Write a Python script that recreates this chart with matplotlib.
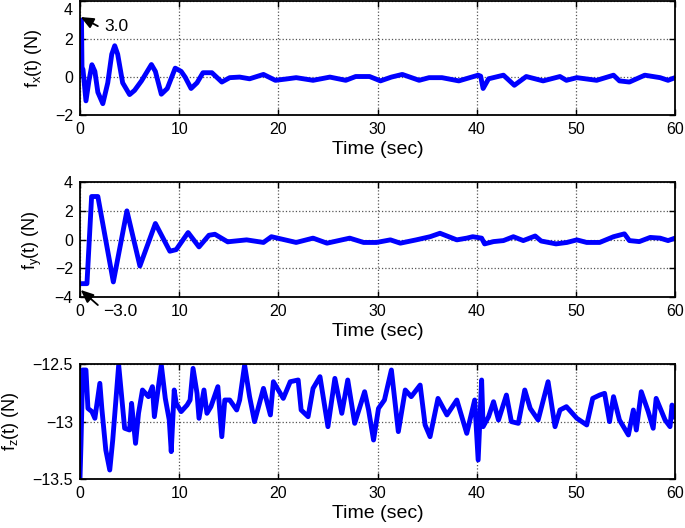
import matplotlib
matplotlib.use("Agg")
import matplotlib.pyplot as plt
from matplotlib.transforms import ScaledTranslation

plt.rcParams["font.family"] = ["Liberation Sans", "DejaVu Sans"]

# ---- data ----
fx_t = [0, 0.15, 0.2, 0.3, 0.6, 0.9, 1.2, 1.5, 1.8, 2.3, 2.8, 3.2, 3.5, 3.8,
        4.3, 5.0, 5.5, 6.2, 7.2, 7.6, 8.2, 8.8, 9.6, 10.2, 10.6, 11.2, 11.8,
        12.4, 13.3, 14.3, 15.1, 16.1, 17.1, 18.5, 19.7, 20.8, 21.8, 23.5,
        25.2, 26.8, 27.8, 29.2, 30.3, 31.4, 32.5, 34.2, 35.2, 36.5, 38.2,
        39.3, 40.15, 40.4, 40.65, 41.2, 42.7, 43.8, 45.0, 46.7, 48.4, 49.05,
        50.1, 52.1, 53.8, 54.4, 55.4, 56.95, 58.5, 59.3, 60.0]
fx_v = [3.0, 3.0, 0.5, 0.4, -1.25, -0.2, 0.65, 0.3, -0.8, -1.4, -0.3, 1.2,
        1.65, 1.2, -0.3, -0.92, -0.7, -0.2, 0.66, 0.3, -0.9, -0.6, 0.47, 0.3,
        0.0, -0.6, -0.3, 0.23, 0.23, -0.26, -0.03, 0.0, -0.09, 0.14, -0.17,
        -0.1, -0.03, -0.17, 0.0, -0.17, 0.03, 0.03, -0.2, 0.0, 0.14, -0.17,
        -0.03, -0.03, -0.2, -0.03, 0.1, 0.05, -0.6, -0.09, 0.1, -0.43, 0.03,
        -0.2, 0.03, -0.17, -0.03, -0.17, 0.1, -0.2, -0.26, 0.1, -0.03,
        -0.17, -0.03]

fy_t = [0, 0.7, 1.17, 1.8, 3.36, 4.73, 6.04, 7.6, 9.06, 9.7, 10.9, 12.0,
        13.0, 13.6, 14.9, 15.1, 16.8, 18.5, 19.3, 21.8, 23.5, 24.9, 27.2,
        28.6, 29.9, 31.3, 32.3, 33.9, 35.3, 36.3, 38.0, 39.0, 39.6, 40.5,
        40.8, 41.7, 42.7, 43.7, 44.7, 45.9, 46.5, 48.0, 49.1, 50.1, 51.1,
        52.4, 53.8, 54.9, 55.4, 56.4, 57.5, 58.5, 59.3, 60.0]
fy_v = [-3.07, -3.07, 3.0, 3.0, -2.95, 2.0, -1.84, 1.12, -0.81, -0.7, 0.49,
        -0.51, 0.3, 0.37, -0.16, -0.14, -0.02, -0.2, 0.2, -0.2, 0.1, -0.25,
        0.1, -0.2, -0.2, -0.02, -0.25, -0.02, 0.2, 0.44, -0.02, 0.1, 0.2,
        0.1, -0.3, -0.14, -0.07, 0.2, -0.07, 0.25, -0.1, -0.3, -0.2, -0.02,
        -0.2, -0.2, 0.2, 0.4, -0.07, -0.14, 0.15, 0.1, -0.07, 0.1]

fz_t = [0, 0.1, 0.27, 0.6, 0.8, 1.2, 1.5, 2.0, 2.2, 2.6, 3.0, 3.3, 3.9, 4.5,
        5.0, 5.2, 5.6, 5.9, 6.3, 6.9, 7.3, 7.5, 8.2, 8.6, 9.0, 9.2, 9.5,
        9.7, 10.2, 10.8, 11.1, 11.4, 11.8, 12.0, 12.5, 12.8, 13.2, 13.9,
        14.3, 14.6, 15.1, 15.8, 16.1, 16.6, 17.1, 17.6, 18.5, 19.2, 19.5,
        20.5, 21.2, 22.0, 22.3, 23.0, 23.5, 24.2, 25.0, 25.7, 26.4, 27.0,
        27.7, 28.7, 29.1, 29.6, 30.1, 30.7, 31.4, 32.1, 32.8, 33.4, 34.3,
        34.8, 35.3, 36.1, 37.0, 38.0, 38.6, 39.0, 39.8, 40.15, 40.5, 40.65,
        41.2, 41.7, 42.2, 43.0, 43.5, 44.2, 44.85, 45.4, 46.2, 47.2, 47.9,
        48.4, 49.05, 50.1, 51.1, 51.7, 52.4, 52.9, 53.4, 53.8, 54.4, 55.3,
        55.8, 56.1, 56.6, 57.3, 57.8, 58.1, 59.0, 59.5, 59.7, 60.0]
fz_v = [-13.494, -13.19, -12.552, -12.552, -12.886, -12.914, -12.972,
        -12.668, -12.886, -13.248, -13.422, -13.161, -12.509, -13.059,
        -13.074, -12.842, -13.19, -12.929, -12.726, -12.784, -12.697,
        -12.958, -12.509, -12.799, -12.987, -13.262, -12.726, -12.842,
        -12.914, -12.857, -12.813, -12.538, -12.755, -12.972, -12.726,
        -12.929, -12.871, -12.697, -13.132, -12.813, -12.813, -12.9,
        -12.813, -12.509, -12.784, -13.001, -12.712, -12.943, -12.654,
        -12.799, -12.654, -12.639, -12.9, -12.958, -12.712, -12.61,
        -13.045, -12.625, -12.929, -12.639, -13.016, -12.741, -12.9,
        -13.161, -12.886, -12.813, -12.552, -13.088, -12.726, -12.784,
        -12.683, -13.03, -13.132, -12.799, -12.943, -12.813, -12.987,
        -13.103, -12.813, -13.335, -12.639, -13.045, -12.958, -12.828,
        -12.987, -12.77, -13.001, -13.016, -12.726, -12.886, -12.987,
        -12.654, -13.045, -12.9, -12.871, -12.972, -13.03, -12.799,
        -12.77, -12.755, -13.001, -12.784, -12.987, -13.117, -12.9,
        -13.074, -12.741, -12.914, -13.059, -12.799, -12.987, -13.045,
        -12.857, -12.958]

ylabels = [r"f$_\mathregular{x}$(t) (N)", r"f$_\mathregular{y}$(t) (N)",
           r"f$_\mathregular{z}$(t) (N)"]
yticks = [[-2, 0, 2, 4], [-4, -2, 0, 2, 4], [-13.5, -13, -12.5]]
ytick_labels = [["\u22122", "0", "2", "4"],
                ["\u22124", "\u22122", "0", "2", "4"],
                ["\u221213.5", "\u221213", "\u221212.5"]]
ylims = [(-2, 4), (-4, 4), (-13.5, -12.5)]
xticks = [0, 10, 20, 30, 40, 50, 60]

fig = plt.figure(figsize=(6.85, 5.28), dpi=100)
boxes = [
    [0.1168, 0.782, 0.8686, 0.216],
    [0.1168, 0.4375, 0.8686, 0.2175],
    [0.1168, 0.0928, 0.8686, 0.2178],
]
series = [(fx_t, fx_v), (fy_t, fy_v), (fz_t, fz_v)]

axes = []
for box, (t, v), lab, yt, ytl, yl in zip(boxes, series, ylabels, yticks,
                                         ytick_labels, ylims):
    ax = fig.add_axes(box)
    ax.plot(t, v, color="#0000ff", lw=3.5, solid_joinstyle="round")
    ax.set_xlim(0, 60)
    ax.set_ylim(*yl)
    ax.set_xticks(xticks)
    ax.set_yticks(yt)
    ax.set_yticklabels(ytl)
    ax.grid(True, linestyle=":", color="#555555", lw=0.9)
    ax.tick_params(direction="in", top=True, right=True, labelsize=11.5,
                   length=4, width=1, pad=5)
    for s in ax.spines.values():
        s.set_linewidth(1.3)
    ax.set_xlabel("Time (sec)", fontsize=14, labelpad=3)
    ax.set_ylabel(lab, fontsize=13, labelpad=8)
    axes.append(ax)

# top "4" label sits a bit below its tick in the reference
top_lbl = axes[0].yaxis.get_major_ticks()[-1].label1
top_lbl.set_transform(top_lbl.get_transform() +
                      ScaledTranslation(0, -0.08, fig.dpi_scale_trans))

arrow = dict(arrowstyle="-|>,head_length=0.7,head_width=0.3", color="k",
             lw=1.3, mutation_scale=11, shrinkA=0, shrinkB=0)

# initial-value markers
axes[0].annotate("", xy=(0.07, 3.16), xytext=(1.8, 2.68), arrowprops=arrow)
axes[0].text(2.5, 2.68, "3.0", fontsize=12.5, va="center", ha="left")

axes[1].annotate("", xy=(0.07, -3.51), xytext=(1.8, -4.56),
                 annotation_clip=False, arrowprops=arrow)
axes[1].text(2.3, -5.04, "\u22123.0", fontsize=12.5, va="center", ha="left",
             clip_on=False)

fig.savefig("out.png", dpi=100)
